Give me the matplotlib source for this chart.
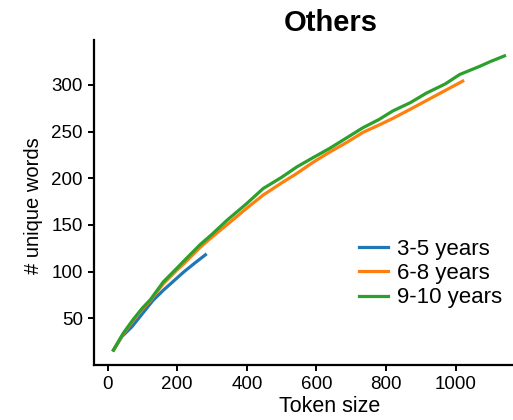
import matplotlib
matplotlib.use("Agg")
import matplotlib.pyplot as plt

plt.rcParams["font.family"] = ["Liberation Sans", "DejaVu Sans"]

# -----------------------------
# Data
# -----------------------------
LABELS = ["3-5 years", "6-8 years", "9-10 years"]
COLORS = ["tab:blue", "tab:orange", "tab:green"]

tokens_35 = [17, 40, 70, 100, 130, 160, 190, 220, 250, 281]
words_35 = [16, 30, 41, 55, 69, 80, 90, 100, 109, 118]

tokens_68 = [17, 45, 74, 100, 123, 160, 200, 218, 266, 300, 352, 400, 447, 500,
             543, 590, 638, 690, 733, 780, 819, 870, 915, 970, 1020]
words_68 = [16, 33, 48, 60, 69, 87, 102, 108, 126, 137, 153, 168, 182, 195,
            205, 217, 228, 239, 249, 257, 264, 274, 283, 294, 304]

tokens_910 = [17, 45, 74, 100, 123, 160, 200, 218, 266, 300, 343, 400, 447, 500,
              543, 590, 638, 690, 733, 780, 819, 870, 915, 970, 1011, 1070, 1100, 1140]
words_910 = [16, 34, 49, 61, 70, 89, 104, 111, 129, 140, 155, 173, 189, 201,
             212, 222, 232, 244, 254, 263, 272, 281, 291, 301, 311, 320, 325, 331]

series = [(tokens_35, words_35), (tokens_68, words_68), (tokens_910, words_910)]

W, H = 513, 420
fig = plt.figure(figsize=(W / 100, H / 100), dpi=100)
ax = fig.add_axes([94 / W, 55 / H, (524 - 94) / W, (365 - 40) / H])

for (x, y), lab, col in zip(series, LABELS, COLORS):
    ax.plot(x, y, color=col, lw=2.3, label=lab)

ax.set_xlim(-39, 1196)
ax.set_ylim(0, 348)
ax.set_xticks([0, 200, 400, 600, 800, 1000])
ax.set_yticks([50, 100, 150, 200, 250, 300])

for s in ["top", "right"]:
    ax.spines[s].set_visible(False)
for s in ["left", "bottom"]:
    ax.spines[s].set_linewidth(1.6)
ax.tick_params(width=1.4, length=4, labelsize=13.5, pad=4)

ax.set_xlabel("Token size", fontsize=15.5)
ax.set_ylabel("# unique words", fontsize=14.5)
ax.xaxis.set_label_coords((330 - 94) / 430, -0.095)
ax.yaxis.set_label_coords(-0.118, (365 - 206) / 325)

fig.text(331 / W, 1 - 23 / H, "Others", ha="center", va="center",
         fontsize=21, fontweight="bold")

ax.legend(loc="center left", bbox_to_anchor=(359 / W, 1 - 273.5 / H),
          bbox_transform=fig.transFigure, frameon=False, fontsize=16,
          handlelength=1.3, handletextpad=0.4, labelspacing=0.15,
          borderpad=0, borderaxespad=0)

fig.savefig("out.png", dpi=100)
